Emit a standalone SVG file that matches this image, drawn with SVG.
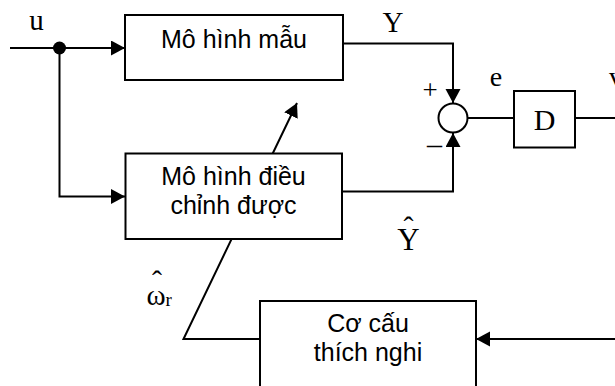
<svg xmlns="http://www.w3.org/2000/svg" width="615" height="386" viewBox="0 0 615 386">
  <style>
    .box { fill: #fff; stroke: #000; stroke-width: 2; }
    .wire { fill: none; stroke: #000; stroke-width: 2; }
    .sans { font-family: "Liberation Sans", Arial, sans-serif; font-size: 25px; fill: #000; text-anchor: middle; }
    .serif { font-family: "Liberation Serif", "Times New Roman", serif; fill: #000; }
  </style>
  <defs>
    <marker id="arrow" markerUnits="userSpaceOnUse" markerWidth="15" markerHeight="16" refX="14" refY="7.5" orient="auto">
      <path d="M0,0 L14,7.5 L0,15 z" fill="#000"/>
    </marker>
  </defs>

  <!-- connectors -->
  <g id="connectors">
    <!-- input u to reference model -->
    <line class="wire" x1="10" y1="48" x2="125" y2="48" marker-end="url(#arrow)"/>
    <!-- branch to adjustable model -->
    <polyline class="wire" points="59.5,48 59.5,196.5 125,196.5" marker-end="url(#arrow)"/>
    <!-- Y to summing junction -->
    <polyline class="wire" points="343,43.5 453,43.5 453,103" marker-end="url(#arrow)"/>
    <!-- Y-hat to summing junction -->
    <polyline class="wire" points="342,191.5 453,191.5 453,133" marker-end="url(#arrow)"/>
    <!-- error e to D -->
    <line class="wire" x1="467.5" y1="118" x2="514" y2="118"/>
    <!-- D output -->
    <line class="wire" x1="575" y1="118" x2="615" y2="118"/>
    <!-- feedback into adaptation mechanism -->
    <line class="wire" x1="615" y1="339" x2="476" y2="339" marker-end="url(#arrow)"/>
    <!-- adaptation output omega_r, tuning arrow -->
    <polyline class="wire" points="260,339 183.5,339 297,103" marker-end="url(#arrow)"/>
    <circle cx="59.5" cy="48" r="6.5" fill="#000"/>
  </g>

  <!-- reference model -->
  <g id="reference-model">
    <rect class="box" x="125" y="15" width="218" height="65"/>
    <text class="sans" x="234" y="48">Mô hình mẫu</text>
  </g>

  <!-- adjustable model -->
  <g id="adjustable-model">
    <rect class="box" x="125.5" y="153.5" width="216.5" height="85.5"/>
    <text class="sans" x="233.5" y="185">Mô hình điều</text>
    <text class="sans" x="233.5" y="213.5">chỉnh được</text>
  </g>

  <!-- summing junction -->
  <g id="sum">
    <circle cx="453" cy="118" r="14.5" fill="#fff" stroke="#000" stroke-width="2"/>
    <text class="serif" x="430" y="99" font-size="27" text-anchor="middle">+</text>
    <text class="serif" x="427" y="154" font-size="30">–</text>
  </g>

  <!-- controller D -->
  <g id="controller-d">
    <rect class="box" x="514" y="91" width="61" height="56.5"/>
    <text class="serif" x="544.5" y="130" font-size="30" text-anchor="middle">D</text>
  </g>

  <!-- adaptation mechanism -->
  <g id="adaptation">
    <rect class="box" x="260" y="301" width="216" height="95"/>
    <text class="sans" x="368" y="331.5">Cơ cấu</text>
    <text class="sans" x="368" y="361">thích nghi</text>
  </g>

  <!-- signal labels -->
  <g id="labels">
    <text class="serif" x="36.5" y="30" font-size="29" text-anchor="middle">u</text>
    <text class="serif" x="393" y="32" font-size="29" text-anchor="middle">Y</text>
    <text class="serif" x="496" y="86" font-size="28" text-anchor="middle">e</text>
    <text class="serif" x="609" y="86" font-size="28">v</text>
    <!-- estimated output: hat placed above the letter -->
    <text class="serif" text-anchor="middle"><tspan x="408.5" y="237" font-size="30">ˆ</tspan><tspan x="408.5" y="250" font-size="31">Y</tspan></text>
    <!-- estimated speed: hat above omega, subscript r -->
    <text class="serif"><tspan x="152" y="290.5" font-size="30">ˆ</tspan><tspan x="146.5" y="305" font-size="29">ω</tspan><tspan font-size="19" dy="1">r</tspan></text>
  </g>
</svg>
